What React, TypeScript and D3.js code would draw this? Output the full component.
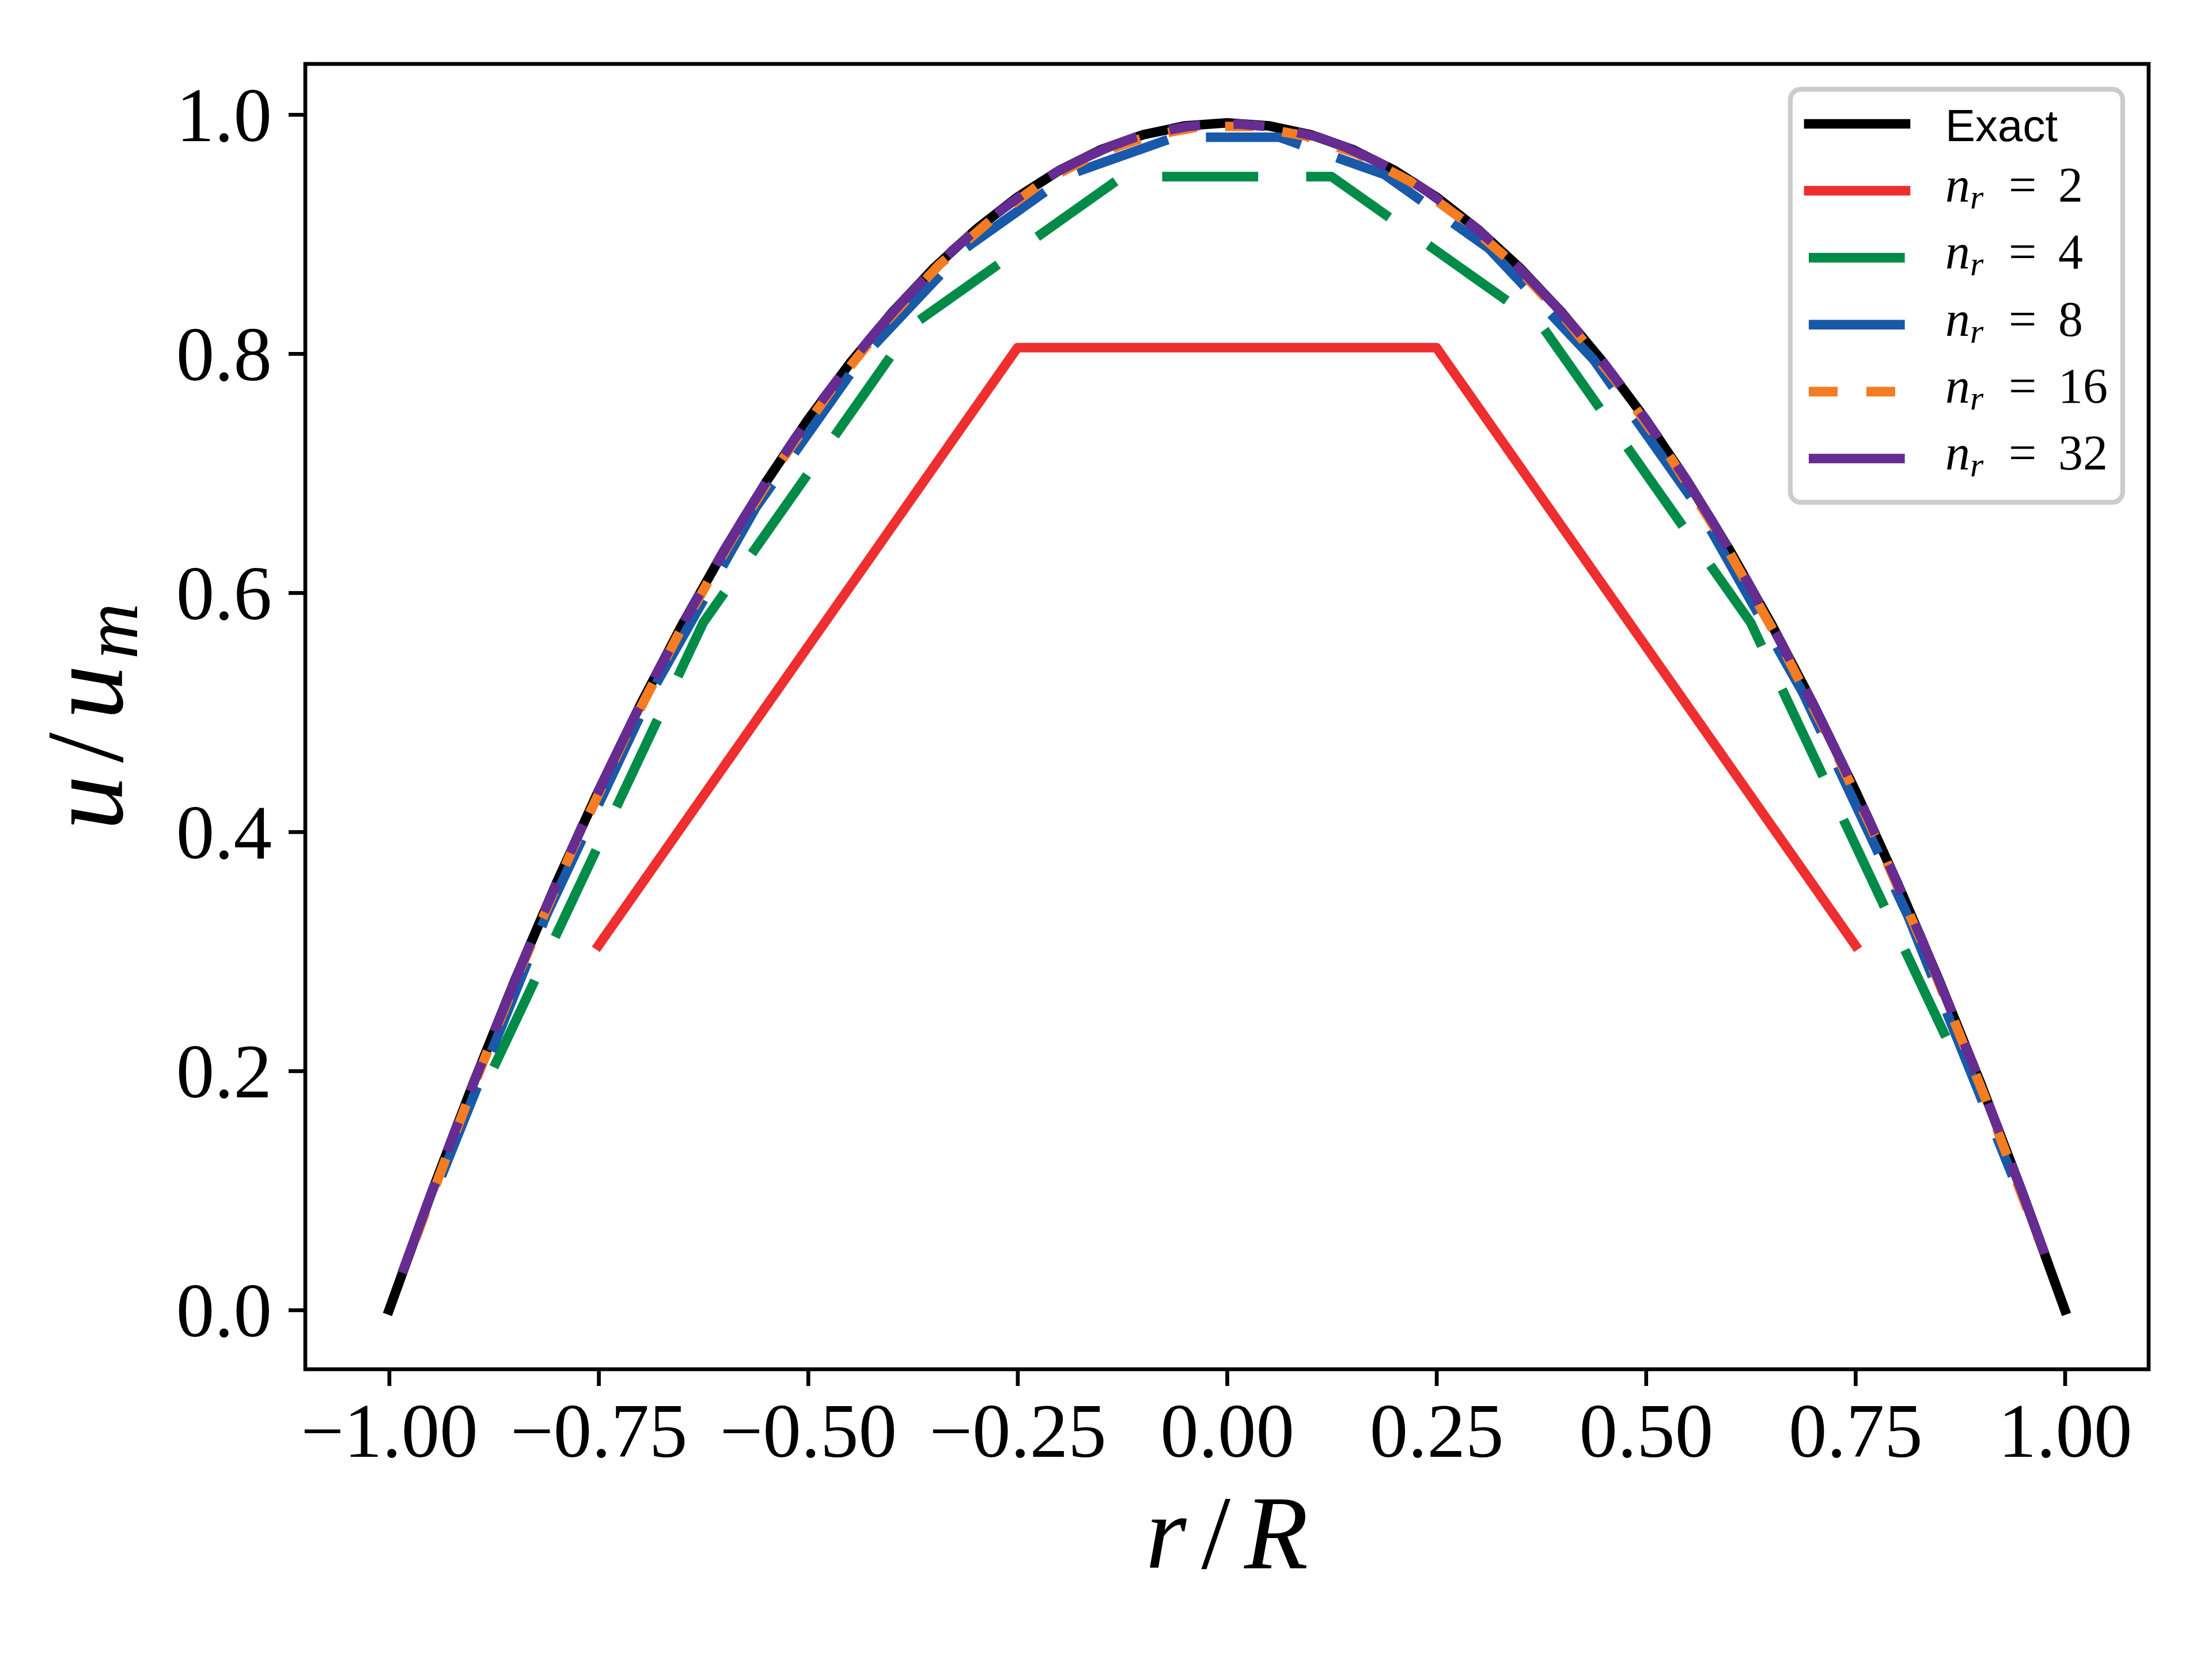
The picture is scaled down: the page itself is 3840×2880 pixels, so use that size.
import * as d3 from "d3";
import React, { useEffect, useRef } from "react";

// exact profile
const rExact = [
  -1, -0.95, -0.9, -0.85, -0.8, -0.75, -0.7, -0.65, -0.6, -0.55, -0.5, -0.45, -0.4, -0.35, -0.3, -0.25, -0.2, -0.15, -0.1, -0.05,
  0, 0.05, 0.1, 0.15, 0.2, 0.25, 0.3, 0.35, 0.4, 0.45, 0.5, 0.55, 0.6, 0.65, 0.7, 0.75, 0.8, 0.85, 0.9, 0.95, 1,
];
const uExact = [
  0, 0.0968, 0.1887, 0.2756, 0.3575, 0.4344, 0.5064, 0.5735, 0.6355, 0.6926, 0.7448, 0.7919, 0.8341, 0.8714, 0.9036, 0.9309, 0.9533, 0.9707, 0.9831, 0.9905,
  0.993, 0.9905, 0.9831, 0.9707, 0.9533, 0.9309, 0.9036, 0.8714, 0.8341, 0.7919, 0.7448, 0.6926, 0.6355, 0.5735, 0.5064, 0.4344, 0.3575, 0.2756, 0.1887, 0.0968, 0,
];

// n_r = 2
const rN2 = [-0.75, -0.25, 0.25, 0.75];
const uN2 = [0.305, 0.805, 0.805, 0.305];

// n_r = 4
const rN4 = [-0.875, -0.625, -0.375, -0.125, 0.125, 0.375, 0.625, 0.875];
const uN4 = [0.203, 0.575, 0.824, 0.948, 0.948, 0.824, 0.575, 0.203];

// n_r = 8
const rN8 = [
  -0.9375, -0.8125, -0.6875, -0.5625, -0.4375, -0.3125, -0.1875, -0.0625,
  0.0625, 0.1875, 0.3125, 0.4375, 0.5625, 0.6875, 0.8125, 0.9375,
];
const uN8 = [
  0.112, 0.33, 0.516, 0.671, 0.795, 0.888, 0.95, 0.981,
  0.981, 0.95, 0.888, 0.795, 0.671, 0.516, 0.33, 0.112,
];

// n_r = 16
const rN16 = [
  -0.96875, -0.90625, -0.84375, -0.78125, -0.71875, -0.65625, -0.59375, -0.53125,
  -0.46875, -0.40625, -0.34375, -0.28125, -0.21875, -0.15625, -0.09375, -0.03125,
  0.03125, 0.09375, 0.15625, 0.21875, 0.28125, 0.34375, 0.40625, 0.46875,
  0.53125, 0.59375, 0.65625, 0.71875, 0.78125, 0.84375, 0.90625, 0.96875,
];
const uN16 = [
  0.059, 0.175, 0.284, 0.385, 0.478, 0.563, 0.641, 0.711,
  0.773, 0.827, 0.874, 0.912, 0.944, 0.967, 0.982, 0.99,
  0.99, 0.982, 0.967, 0.944, 0.912, 0.874, 0.827, 0.773,
  0.711, 0.641, 0.563, 0.478, 0.385, 0.284, 0.175, 0.059,
];

// n_r = 32
const rN32 = [
  -0.9844, -0.9531, -0.9219, -0.8906, -0.8594, -0.8281, -0.7969, -0.7656,
  -0.7344, -0.7031, -0.6719, -0.6406, -0.6094, -0.5781, -0.5469, -0.5156,
  -0.4844, -0.4531, -0.4219, -0.3906, -0.3594, -0.3281, -0.2969, -0.2656,
  -0.2344, -0.2031, -0.1719, -0.1406, -0.1094, -0.0781, -0.0469, -0.0156,
  0.0156, 0.0469, 0.0781, 0.1094, 0.1406, 0.1719, 0.2031, 0.2344,
  0.2656, 0.2969, 0.3281, 0.3594, 0.3906, 0.4219, 0.4531, 0.4844,
  0.5156, 0.5469, 0.5781, 0.6094, 0.6406, 0.6719, 0.7031, 0.7344,
  0.7656, 0.7969, 0.8281, 0.8594, 0.8906, 0.9219, 0.9531, 0.9844,
];
const uN32 = [
  0.031, 0.091, 0.149, 0.205, 0.259, 0.312, 0.362, 0.411,
  0.457, 0.502, 0.544, 0.585, 0.624, 0.661, 0.696, 0.729,
  0.76, 0.789, 0.816, 0.841, 0.864, 0.886, 0.905, 0.922,
  0.938, 0.952, 0.963, 0.973, 0.981, 0.986, 0.99, 0.992,
  0.992, 0.99, 0.986, 0.981, 0.973, 0.963, 0.952, 0.938,
  0.922, 0.905, 0.886, 0.864, 0.841, 0.816, 0.789, 0.76,
  0.729, 0.696, 0.661, 0.624, 0.585, 0.544, 0.502, 0.457,
  0.411, 0.362, 0.312, 0.259, 0.205, 0.149, 0.091, 0.031,
];

const xTicks = [-1, -0.75, -0.5, -0.25, 0, 0.25, 0.5, 0.75, 1];
const yTicks = [0, 0.2, 0.4, 0.6, 0.8, 1.0];
const seriesLabels = ["Exact", "2", "4", "8", "16", "32"];

const W = 3840;
const H = 2880;
const LW = 16.67;
const SERIF = "'Liberation Serif', 'Times New Roman', serif";
const SANS = "'Liberation Sans', Arial, sans-serif";

const styles = [
  { color: "#000000", dash: null },
  { color: "#EE2E2F", dash: null },
  { color: "#008C48", dash: "166.7 83.3" },
  { color: "#185AA9", dash: "166.7 66.7" },
  { color: "#F47D23", dash: "50 50" },
  { color: "#662C91", dash: "166.7 58 54 58 54 58" },
];

const App = () => {
  const ref = useRef<SVGSVGElement | null>(null);

  useEffect(() => {
    const svg = d3.select(ref.current);
    svg.selectAll("*").remove();

    const left = 530, right = 3730, top = 111, bottom = 2377;

    const x = d3.scaleLinear().domain([-1.1, 1.1]).range([left, right]);
    const y = d3.scaleLinear().domain([-0.0496, 1.0423]).range([bottom, top]);

    svg.append("rect").attr("width", W).attr("height", H).attr("fill", "#fff");

    const data = [
      [rExact, uExact],
      [rN2, uN2],
      [rN4, uN4],
      [rN8, uN8],
      [rN16, uN16],
      [rN32, uN32],
    ];

    const line = d3
      .line<[number, number]>()
      .x((d) => x(d[0]))
      .y((d) => y(d[1]));

    const g = svg.append("g");
    data.forEach(([rs, us], i) => {
      const pts = rs.map((r, j) => [r, us[j]] as [number, number]);
      const st = styles[i];
      g.append("path")
        .attr("d", line(pts))
        .attr("fill", "none")
        .attr("stroke", st.color)
        .attr("stroke-width", LW)
        .attr("stroke-linejoin", "round")
        .attr("stroke-linecap", st.dash ? "butt" : "square")
        .attr("stroke-dasharray", st.dash);
    });

    // axes
    const xAxis = svg
      .append("g")
      .attr("transform", `translate(0,${bottom})`)
      .call(
        d3
          .axisBottom(x)
          .tickValues(xTicks)
          .tickSize(29)
          .tickSizeOuter(0)
          .tickFormat((d) => d3.format(".2f")(d as number).replace("-", "\u2212"))
      );
    xAxis.select(".domain").remove();
    xAxis.selectAll("line").attr("stroke", "#000").attr("stroke-width", 6.67);
    xAxis
      .selectAll("text")
      .attr("y", 152)
      .attr("dy", null)
      .attr("fill", "#000")
      .style("font-family", SERIF)
      .style("font-size", "133px");

    const yAxis = svg
      .append("g")
      .attr("transform", `translate(${left},0)`)
      .call(
        d3
          .axisLeft(y)
          .tickValues(yTicks)
          .tickSize(29)
          .tickSizeOuter(0)
          .tickFormat((d) => d3.format(".1f")(d as number))
      );
    yAxis.select(".domain").remove();
    yAxis.selectAll("line").attr("stroke", "#000").attr("stroke-width", 6.67);
    yAxis
      .selectAll("text")
      .attr("x", -58)
      .attr("dy", "0.34em")
      .attr("fill", "#000")
      .style("font-family", SERIF)
      .style("font-size", "133px");

    // frame
    svg
      .append("rect")
      .attr("x", left)
      .attr("y", top)
      .attr("width", right - left)
      .attr("height", bottom - top)
      .attr("fill", "none")
      .attr("stroke", "#000")
      .attr("stroke-width", 6.67);

    // axis labels
    const xl = svg
      .append("text")
      .attr("x", (left + right) / 2)
      .attr("y", 2722)
      .attr("text-anchor", "middle")
      .style("font-family", SERIF)
      .style("font-size", "182px");
    xl.append("tspan").attr("font-style", "italic").text("r");
    xl.append("tspan").attr("dx", 26).text("/");
    xl.append("tspan").attr("dx", 24).attr("font-style", "italic").text("R");

    const yl = svg
      .append("text")
      .attr("transform", `translate(212,${(top + bottom) / 2}) rotate(-90)`)
      .attr("text-anchor", "middle")
      .style("font-family", SERIF)
      .style("font-size", "190px");
    yl.append("tspan").attr("font-style", "italic").text("u");
    yl.append("tspan").attr("dx", 22).text("/");
    yl.append("tspan").attr("dx", 22).attr("font-style", "italic").text("u");
    yl.append("tspan")
      .attr("font-style", "italic")
      .attr("dx", 10)
      .attr("dy", 26)
      .style("font-size", "135px")
      .text("m");

    // legend
    const lg = svg.append("g");
    lg.append("rect")
      .attr("x", 3108)
      .attr("y", 155)
      .attr("width", 577)
      .attr("height", 717)
      .attr("rx", 18)
      .attr("fill", "#fff")
      .attr("fill-opacity", 0.8)
      .attr("stroke", "#cccccc")
      .attr("stroke-width", 8.3);

    seriesLabels.forEach((lab, i) => {
      const cy = 215 + i * 116.2;
      const st = styles[i];
      lg.append("line")
        .attr("x1", 3140)
        .attr("x2", 3308)
        .attr("y1", cy)
        .attr("y2", cy)
        .attr("stroke", st.color)
        .attr("stroke-width", LW)
        .attr("stroke-linecap", st.dash ? "butt" : "square")
        .attr("stroke-dasharray", st.dash);
      if (i === 0) {
        lg.append("text")
          .attr("x", 3377)
          .attr("y", cy + 30)
          .style("font-family", SANS)
          .style("font-size", "78px")
          .text(lab);
      } else {
        const t = lg
          .append("text")
          .attr("x", 3377)
          .attr("y", cy + 19)
          .style("font-family", SERIF)
          .style("font-size", "86px");
        t.append("tspan").attr("font-style", "italic").text("n");
        t.append("tspan")
          .attr("font-style", "italic")
          .attr("dy", 12)
          .style("font-size", "60px")
          .text("r");
        t.append("tspan").attr("x", 3487).attr("dy", -12).text("=");
        t.append("tspan").attr("x", 3573).text(lab);
      }
    });
  }, []);

  return (
    <svg
      ref={ref}
      width={W}
      height={H}
      style={{ position: "absolute", left: 0, top: 0 }}
    />
  );
};

export default App;
